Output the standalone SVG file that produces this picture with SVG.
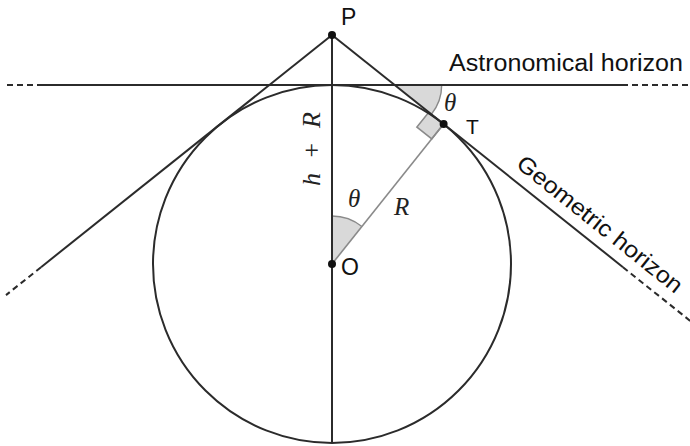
<svg xmlns="http://www.w3.org/2000/svg" width="690" height="446" viewBox="0 0 690 446">
<style>
.ln{stroke:#2b2b2b;stroke-width:2;fill:none}
.dash{stroke:#2b2b2b;stroke-width:2;fill:none;stroke-dasharray:6 4}
.gray{stroke:#8a8a8a;stroke-width:1.6;fill:none}
.ang{fill:#d9d9d9;stroke:none}
.arc{stroke:#8a8a8a;stroke-width:1.4;fill:none}
.lbl{font-family:"Liberation Sans",Arial,sans-serif;font-size:23px;fill:#111}
.math{font-family:"Liberation Serif","Times New Roman",serif;font-style:italic;font-size:25px;fill:#222}
.dot{fill:#111}
</style>
<rect width="690" height="446" fill="#fff"/>
<g id="angles">
<path class="ang" d="M394.7,85 L441.7,85 A47,47 0 0 1 431.4,114.3 Z"/>
<path class="arc" d="M441.7,85 A47,47 0 0 1 431.4,114.3"/>
<path class="ang" d="M332,264 L332,216 A48,48 0 0 1 361.9,226.5 Z"/>
<path class="arc" d="M332,216 A48,48 0 0 1 361.9,226.5"/>
<polygon class="ang" points="443.6,124.1 428.75,112.25 416.9,127.1 431.75,138.95" style="stroke:#8a8a8a;stroke-width:1.6"/>
</g>
<g id="earth">
<circle class="ln" cx="332" cy="264" r="179"/>
</g>
<g id="connectors">
<line class="gray" x1="332" y1="264" x2="443.6" y2="124.1"/>
<line class="ln" x1="332" y1="35" x2="332" y2="443"/>
<line class="ln" x1="42" y1="85" x2="622" y2="85"/>
<line class="dash" x1="7" y1="85" x2="42" y2="85"/>
<line class="dash" x1="622" y1="85" x2="690" y2="85"/>
<line class="ln" x1="332" y1="35" x2="623" y2="267.2"/>
<line class="dash" x1="623" y1="267.2" x2="692" y2="322.3"/>
<line class="ln" x1="332" y1="35" x2="41" y2="267.2"/>
<line class="dash" x1="41" y1="267.2" x2="6" y2="295.1"/>
</g>
<g id="P"><circle class="dot" cx="332" cy="35" r="4"/><text class="lbl" x="341" y="25">P</text></g>
<g id="O"><circle class="dot" cx="332" cy="264" r="4"/><text class="lbl" x="341" y="275">O</text></g>
<g id="T"><circle class="dot" cx="443.6" cy="124.1" r="4"/><text class="lbl" x="466" y="134" style="font-size:21px">T</text></g>
<g id="labels">
<text class="lbl" x="449" y="71" textLength="234" lengthAdjust="spacingAndGlyphs">Astronomical horizon</text>
<text class="lbl" transform="translate(507.9,175.2) rotate(38.58)" x="0" y="-11.4" textLength="205" lengthAdjust="spacingAndGlyphs">Geometric horizon</text>
<text class="math" transform="translate(320,149) rotate(-90)" x="0" y="0" text-anchor="middle" style="font-size:26px" textLength="74" lengthAdjust="spacing">h + R</text>
<text class="math" x="348" y="207">θ</text>
<text class="math" x="444" y="111">θ</text>
<text class="math" x="394" y="215">R</text>
</g>
</svg>
